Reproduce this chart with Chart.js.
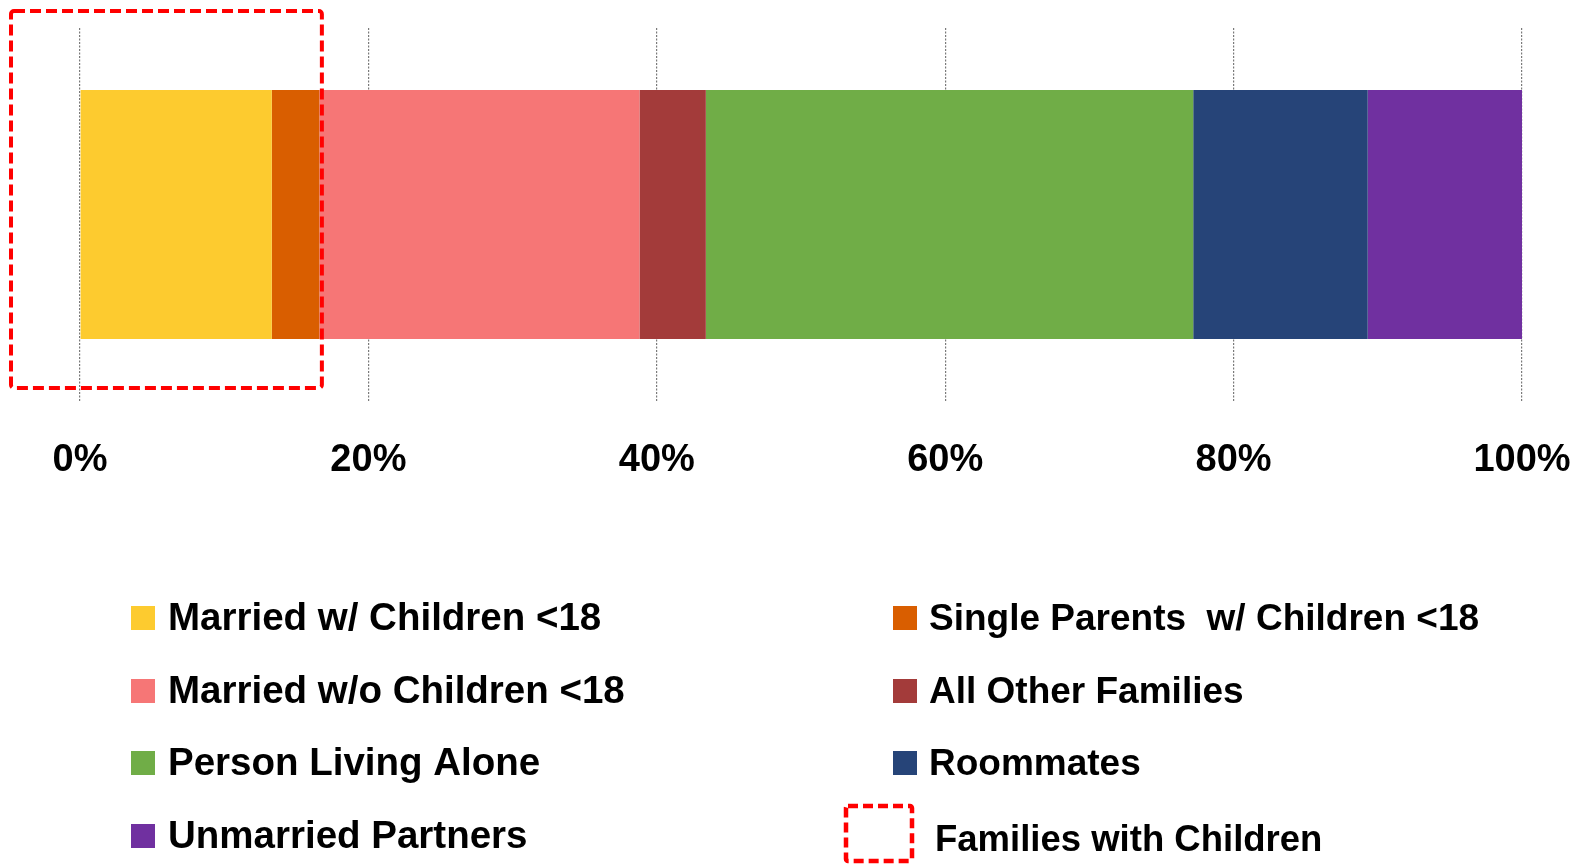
<!DOCTYPE html>
<html lang="en">
  <head>
    <meta charset="UTF-8">
    <title>Household types</title>
    <script src="https://cdn.jsdelivr.net/npm/chart.js@4.4.1/dist/chart.umd.min.js"></script>
    <style>
      html, body { margin: 0; padding: 0; background: #fff; }
      canvas { display: block; }
    </style>
  </head>
  <body>
    <canvas id="myChart" width="1585" height="864"></canvas>

    <script>
      // data (share of households, %)
      const categories = ['Households'];
      const seriesLabels = [
        'Married w/ Children <18',
        'Single Parents  w/ Children <18',
        'Married w/o Children <18',
        'All Other Families',
        'Person Living Alone',
        'Roommates',
        'Unmarried Partners'
      ];
      const seriesValues = [13.3, 3.3, 22.2, 4.6, 33.8, 12.1, 10.7];
      const seriesColors = ['#FDCB2F', '#D95E00', '#F67676', '#A33B3A', '#70AD47', '#264478', '#7030A0'];
      const tickValues = [0, 20, 40, 60, 80, 100];
      const boxLabel = 'Families with Children';
      const boxSeries = 2; // first two series are the families with children

      const FONT = '"Liberation Sans", Arial, sans-serif';

      // dashed box + custom two column legend
      const overlay = {
        id: 'overlay',
        afterDatasetsDraw(chart) {
          const ctx = chart.ctx;
          const x = chart.scales.x;
          const area = chart.chartArea;
          let cum = 0;
          for (let i = 0; i < boxSeries; i++) cum += seriesValues[i];
          const left = 11, right = x.getPixelForValue(cum) + 2.5;
          const top = area.top - 17, bottom = area.bottom - 13;
          ctx.save();
          ctx.strokeStyle = '#FF0000';
          ctx.lineWidth = 4;
          ctx.setLineDash([11, 5]);
          ctx.beginPath();
          ctx.roundRect(left, top, right - left, bottom - top, 3);
          ctx.stroke();
          ctx.restore();
        },
        afterDraw(chart) {
          const ctx = chart.ctx;
          const cols = [
            { sw: 131, tx: 168, size: 38.5 },
            { sw: 893, tx: 929, size: 37 }
          ];
          const rows = [630, 703, 775, 848];
          ctx.save();
          ctx.textBaseline = 'alphabetic';
          seriesLabels.forEach((lab, i) => {
            const c = cols[i % 2];
            const y = rows[Math.floor(i / 2)];
            ctx.fillStyle = seriesColors[i];
            ctx.fillRect(c.sw, y - 24, 24, 24);
            ctx.fillStyle = '#000';
            ctx.font = 'bold ' + c.size + 'px ' + FONT;
            ctx.fillText(lab, c.tx, y);
          });
          // box legend entry
          ctx.strokeStyle = '#FF0000';
          ctx.lineWidth = 4.5;
          ctx.setLineDash([10, 5]);
          ctx.beginPath();
          ctx.roundRect(846, 806, 66, 55, 2);
          ctx.stroke();
          ctx.setLineDash([]);
          ctx.fillStyle = '#000';
          ctx.font = 'bold 36.5px ' + FONT;
          ctx.fillText(boxLabel, 935, 851);
          ctx.restore();
        }
      };

      const ctx = document.getElementById('myChart').getContext('2d');
      const myChart = new Chart(ctx, {
        type: 'bar',
        data: {
          labels: categories,
          datasets: seriesLabels.map((lab, i) => ({
            label: lab,
            data: [seriesValues[i]],
            backgroundColor: seriesColors[i],
            borderWidth: 0,
            barPercentage: 0.667,
            categoryPercentage: 1.0
          }))
        },
        options: {
          indexAxis: 'y',
          responsive: false,
          animation: false,
          layout: { padding: { left: 80, right: 63, top: 28, bottom: 363 } },
          plugins: { legend: { display: false }, tooltip: { enabled: false } },
          scales: {
            x: {
              stacked: true,
              min: 0,
              max: 100,
              afterBuildTicks: s => { s.ticks = tickValues.map(v => ({ value: v })); },
              afterFit: s => { s.height = 100; s.paddingLeft = 0; s.paddingRight = 0; },
              ticks: {
                padding: 37,
                color: '#000',
                font: { family: FONT, size: 38, weight: 'bold' },
                callback: v => v + '%'
              },
              grid: { color: '#7a7a7a', lineWidth: 1.2, drawTicks: false },
              border: { display: false, dash: [2, 1.5] }
            },
            y: {
              stacked: true,
              display: false
            }
          }
        },
        plugins: [overlay]
      });
    </script>
  </body>
</html>
